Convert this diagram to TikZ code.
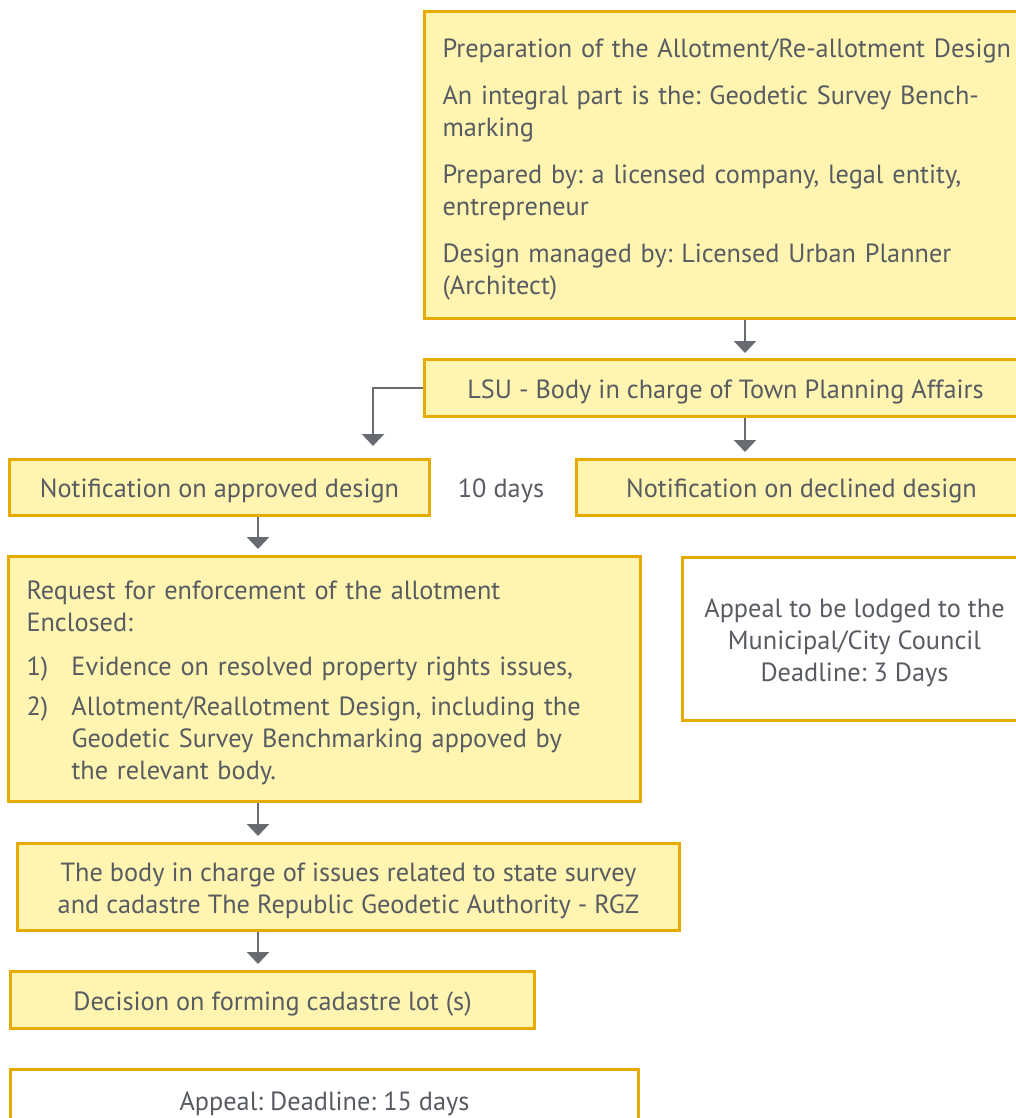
\documentclass[tikz,border=0pt]{standalone}
\usepackage{fontspec}
\setmainfont{PT Sans}
\usetikzlibrary{arrows.meta}
\definecolor{boxfill}{RGB}{255,245,176}
\definecolor{boxline}{RGB}{230,170,0}
\definecolor{ink}{RGB}{88,92,98}
\definecolor{wire}{RGB}{104,108,114}
\newcommand{\firstline}{\rule{0pt}{27pt}}
\tikzset{
  x=1pt, y=-1pt,
  txt/.style={text=ink, font=\frenchspacing\fontsize{26.3}{32}\selectfont},
  box/.style={txt, draw=boxline, fill=boxfill, line width=3pt, inner sep=0pt},
  plainbox/.style={box, fill=white},
  oneline/.style={text height=22pt, text depth=2pt},
  arr/.style={draw=wire, line width=2.6pt, -{Triangle[length=12pt,width=22pt]}},
  lbl/.style={txt, inner sep=0pt}
}
\begin{document}
\begin{tikzpicture}
\useasboundingbox (0,0) rectangle (1015,1118);

% main design box
\node[box, anchor=north west, minimum width=607pt, minimum height=307pt,
      text width=571pt, align=left] (design) at (423,10) {%
\firstline Preparation of the Allotment/Re-allotment Design\\[15pt]
An integral part is the: Geodetic Survey Bench-\\marking\\[15pt]
Prepared by: a licensed company, legal entity,\\entrepreneur\\[15pt]
Design managed by: Licensed Urban Planner\\(Architect)};

\node[box, oneline, anchor=north west, minimum width=602pt, minimum height=57pt] (lsu) at (423,358)
  {LSU - Body in charge of Town Planning Affairs};

\node[box, oneline, anchor=north west, minimum width=420pt, minimum height=56pt] (approved) at (8,458)
  {Notification on approved design};
\node[lbl] (days) at (501,491) {10 days};
\node[box, oneline, anchor=north west, minimum width=450pt, minimum height=56pt] (declined) at (575,458)
  {Notification on declined design};

\node[box, anchor=north west, minimum width=632pt, minimum height=245pt,
      text width=596pt, align=left] (request) at (7,555) {%
\firstline Request for enforcement of the allotment\\
Enclosed:\\[12pt]
\makebox[45pt][l]{1)}Evidence on resolved property rights issues,\\[8pt]
\makebox[45pt][l]{2)}Allotment/Reallotment Design, including the\\
\hspace*{45pt}Geodetic Survey Benchmarking appoved by\\
\hspace*{45pt}the relevant body.};

\node[plainbox, anchor=north west, minimum width=344pt, minimum height=163pt, align=center] (appeal) at (681,556)
  {\firstline Appeal to be lodged to the\\Municipal/City Council\\Deadline: 3 Days};

\node[box, anchor=north west, minimum width=662pt, minimum height=87pt, align=center] (rgz) at (16,842)
  {\firstline The body in charge of issues related to state survey\\and cadastre The Republic Geodetic Authority - RGZ};

\node[box, oneline, anchor=north west, minimum width=524pt, minimum height=57pt] (decision) at (9,970)
  {Decision on forming cadastre lot (s)};

\node[plainbox, oneline, anchor=north west, minimum width=628pt, minimum height=62pt] (appeal15) at (9,1068)
  {Appeal: Deadline: 15 days};

% connector columns
\coordinate (colR) at (745,0);
\coordinate (colL) at (258,0);
\coordinate (bend) at (373,0);

\draw[arr, shorten >=5pt] (design.south -| colR) -- (lsu.north -| colR);
\draw[arr, shorten >=6pt] (lsu.south -| colR) -- (declined.north -| colR);
\draw[arr, shorten >=12pt] (lsu.west) -| (approved.north -| bend);
\draw[arr, shorten >=6pt] (approved.south -| colL) -- (request.north -| colL);
\draw[arr, shorten >=6pt] (request.south -| colL) -- (rgz.north -| colL);
\draw[arr, shorten >=6pt] (rgz.south -| colL) -- (decision.north -| colL);
\end{tikzpicture}
\end{document}
